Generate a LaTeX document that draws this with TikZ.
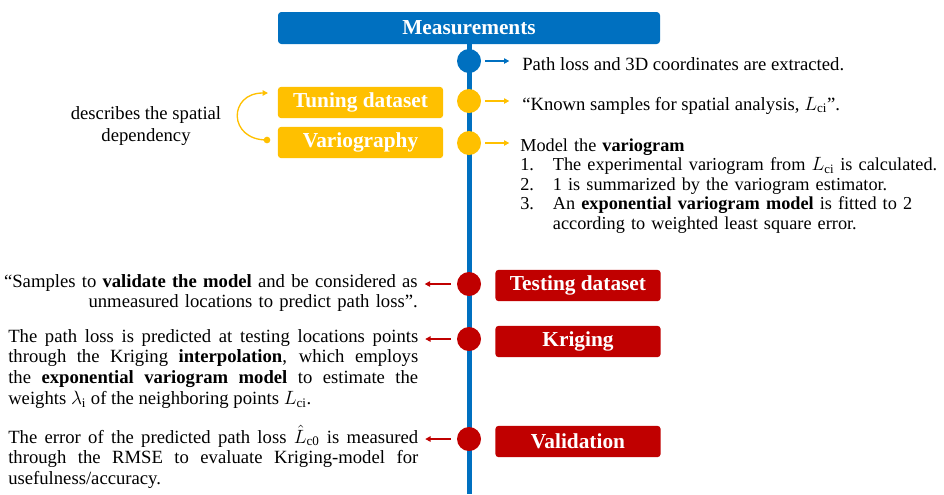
\documentclass[tikz,border=0pt]{standalone}
\usepackage{fontspec}
\setmainfont{Liberation Serif}
\usepackage{tikz}
\usetikzlibrary{arrows.meta, positioning, calc}
\definecolor{officeblue}{RGB}{0,112,192}
\definecolor{officegold}{RGB}{255,192,0}
\definecolor{officered}{RGB}{192,0,0}

\begin{document}
\begin{tikzpicture}[
  x=0.75pt, y=-0.75pt,
  stage/.style={rectangle, fill=#1, rounded corners=2.5pt, text=white,
                font=\fontsize{16}{18}\selectfont\bfseries, align=center,
                minimum width=124pt, minimum height=23.5pt, inner sep=0pt},
  dot/.style={circle, fill=#1, minimum size=18pt, inner sep=0pt},
  arr/.style={-{Triangle[length=4pt, width=4pt]}, line width=1pt, #1},
  txt/.style={font=\fontsize{14}{14.7}\selectfont, inner sep=0pt},
  ltxt/.style={font=\fontsize{14}{15.6}\selectfont, inner sep=0pt,
               text width=307.5pt, align=justify},
]
  \useasboundingbox (0,0) rectangle (944,494);

  % stage boxes
  \node[stage=officeblue, minimum width=286.5pt, minimum height=24pt]
        (meas) at (469,28) {Measurements};
  \node[stage=officegold] (tune)  at (360.5,102.5) {Tuning dataset};
  \node[stage=officegold] (vario) at (360.5,142.5) {Variography};
  \node[stage=officered]  (test)  at (578,285.5)   {Testing dataset};
  \node[stage=officered]  (krig)  at (578,341.5)   {Kriging};
  \node[stage=officered]  (valid) at (578,441.5)   {Validation};

  % time line
  \coordinate (bot) at (469,494);
  \draw[officeblue, line width=3.75pt] (meas.south) -- (bot);

  \node[dot=officeblue] (d1) at (469,61)  {};
  \node[dot=officegold] (d2) at (469,101) {};
  \node[dot=officegold] (d3) at (469,143) {};
  \node[dot=officered]  (d4) at (469,284) {};
  \node[dot=officered]  (d5) at (469,339) {};
  \node[dot=officered]  (d6) at (469,439) {};

  % descriptions on the right
  \node[txt, anchor=base west] (t1) at (522,70)
    {Path loss and 3D coordinates are extracted.};
  \node[txt, anchor=base west] (t2) at (522,110)
    {``Known samples for spatial analysis, $L_{\mathrm{ci}}$''.};
  \node[txt, anchor=base west, text width=340pt, align=left,
        font=\fontsize{13.7}{14.7}\selectfont] (t3) at (520,151)
    {Model the \textbf{variogram}\\
     \makebox[24.5pt][l]{1.}The experimental variogram from $L_{\mathrm{ci}}$ is calculated.\\
     \makebox[24.5pt][l]{2.}1 is summarized by the variogram estimator.\\
     \makebox[24.5pt][l]{3.}An \textbf{exponential variogram model} is fitted to 2\\
     \hspace*{24.5pt}according to weighted least square error.};

  % descriptions on the left
  \node[ltxt, anchor=base east, text width=330pt, align=right] (t4) at (418,287)
    {``Samples to \textbf{validate the model} and be considered as\\
     unmeasured locations to predict path loss''.};
  \node[ltxt, anchor=base west] (t5) at (8,342)
    {The path loss is predicted at testing locations points\linebreak
     through the Kriging \textbf{interpolation}, which employs\linebreak
     the \textbf{exponential variogram model} to estimate the\linebreak
     weights $\lambda_{\mathrm{i}}$ of the neighboring points $L_{\mathrm{ci}}$.};
  \node[ltxt, anchor=base west] (t6) at (8,443)
    {The error of the predicted path loss $\hat{L}_{\mathrm{c0}}$ is measured\linebreak
     through the RMSE to evaluate Kriging-model for\linebreak
     usefulness/accuracy.};

  \draw[arr=officeblue, shorten <=3pt, shorten >=9.5pt] (d1) -- (d1 -| t1.west);
  \draw[arr=officegold, shorten <=3pt, shorten >=9.5pt] (d2) -- (d2 -| t2.west);
  \draw[arr=officegold, shorten <=3pt, shorten >=8pt]   (d3) -- (d3 -| t3.west);
  \draw[arr=officered, shorten <=4.5pt, shorten >=5pt]  (d4) -- (d4 -| t4.east);
  \draw[arr=officered, shorten <=4.5pt, shorten >=5pt]  (d5) -- (d5 -| t5.east);
  \draw[arr=officered, shorten <=4.5pt, shorten >=5pt]  (d6) -- (d6 -| t6.east);

  % spatial dependency loop
  \node[txt, align=center, font=\fontsize{14}{16.5}\selectfont] (dep) at (146,126)
    {describes the spatial\\dependency};
  \coordinate (cs) at (267,140);
  \coordinate (ce) at (268,93);
  \fill[officegold] (cs) circle (2.5pt);
  \draw[arr=officegold] (cs) .. controls (228,140) and (228,93) .. (ce);
\end{tikzpicture}
\end{document}
